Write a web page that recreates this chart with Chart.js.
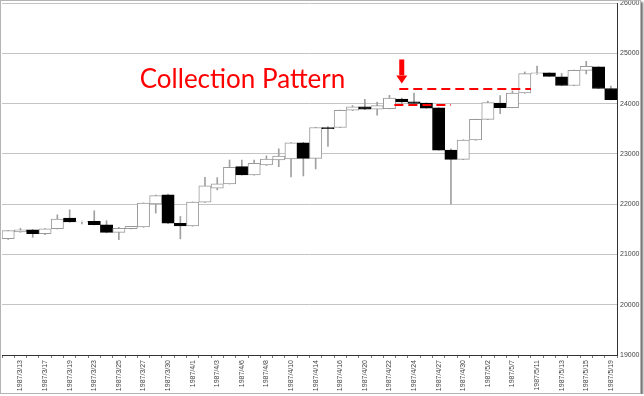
<!DOCTYPE html>
<html lang="ja">
<head>
<meta charset="UTF-8">
<title>1987 Collection Pattern</title>
<script src="https://cdn.jsdelivr.net/npm/chart.js@4.4.1/dist/chart.umd.min.js"></script>
<style>
  body { margin: 0; background: #fff; }
  #wrap {
    position: relative;
    width: 639px; height: 392px;
    border: 1px solid #b4b4b4;
    box-shadow: 2px 2px 2px #6e6e6e;
    background: #fff;
  }
  canvas { display: block; }
</style>
</head>
<body>
<div id="wrap"><canvas id="candleChart" width="639" height="392"></canvas></div>
<script>
// 日付 (every other one is shown on the axis)
const dates = ['1987/3/12','1987/3/13','1987/3/16','1987/3/17','1987/3/18','1987/3/19','1987/3/20','1987/3/23',
  '1987/3/24','1987/3/25','1987/3/26','1987/3/27','1987/3/28','1987/3/30','1987/3/31','1987/4/1','1987/4/2',
  '1987/4/3','1987/4/4','1987/4/6','1987/4/7','1987/4/8','1987/4/9','1987/4/10','1987/4/13','1987/4/14',
  '1987/4/15','1987/4/16','1987/4/17','1987/4/20','1987/4/21','1987/4/22','1987/4/23','1987/4/24','1987/4/25',
  '1987/4/27','1987/4/28','1987/4/30','1987/5/1','1987/5/2','1987/5/6','1987/5/7','1987/5/8','1987/5/11',
  '1987/5/12','1987/5/13','1987/5/14','1987/5/15','1987/5/18','1987/5/19'];

const openP  = [21313,21450,21490,21412,21511,21723,21644,21656,21590,21438,21511,21545,22005,22184,21620,21565,22040,
  22317,22402,22745,22580,22778,22877,22897,23220,22911,23525,23525,23867,23935,23890,23900,24090,24035,24010,
  23915,23075,22890,23275,23685,24012,23920,24210,24595,24610,24530,24360,24660,24730,24300];
const highP  = [21480,21520,21495,21515,21788,21887,21665,21868,21670,21537,21560,22025,22180,22200,21755,22045,22535,
  22527,22877,22877,22877,22960,23100,23225,23230,23530,23540,23870,23960,24085,24030,24165,24110,24210,24015,
  23920,23100,23280,23690,24050,24160,24250,24630,24745,24615,24600,24665,24840,24735,24350];
const lowP   = [21300,21440,21340,21392,21505,21640,21605,21585,21430,21295,21505,21540,21822,21610,21310,21560,22035,
  22283,22400,22575,22575,22770,22745,22540,22560,22700,23150,23520,23860,23880,23770,23895,24000,23990,23905,
  23070,22000,22885,23270,23680,23800,23915,24205,24580,24535,24355,24355,24590,24295,24075];
const closeP = [21472,21490,21412,21511,21703,21644,21658,21590,21438,21517,21557,22020,22170,21624,21565,22040,22363,
  22402,22733,22580,22812,22897,22956,23220,22911,23525,23500,23867,23933,23890,23960,24110,24035,24005,23910,
  23075,22890,23275,23685,24020,23920,24210,24595,24610,24540,24360,24660,24740,24300,24080];

const yMin = 19000, yMax = 26000, yStep = 1000;

// 注記 (index positions / price levels)
const upperLine = { from: 31.8, to: 42.5, price: 24280 };
const lowerLine = { from: 31.4, to: 36.0, price: 23980 };
const arrowAt = { index: 32, top: 24877, neck: 24560, tip: 24400 };
const noteText = { text: 'Collection Pattern', index: 10.7, price: 24300 };

const down = closeP.map((c, i) => c < openP[i]);

const annotate = {
  id: 'annotate',
  afterDatasetsDraw(chart) {
    const ctx = chart.ctx, x = chart.scales.x, y = chart.scales.y;
    ctx.save();
    ctx.strokeStyle = '#ff0000';
    ctx.lineWidth = 2;
    ctx.setLineDash([9, 5]);
    [upperLine, lowerLine].forEach(l => {
      ctx.beginPath();
      ctx.moveTo(x.getPixelForValue(l.from), Math.round(y.getPixelForValue(l.price)));
      ctx.lineTo(x.getPixelForValue(l.to), Math.round(y.getPixelForValue(l.price)));
      ctx.stroke();
    });
    ctx.setLineDash([]);

    // 矢印
    const ax = x.getPixelForValue(arrowAt.index);
    const t = y.getPixelForValue(arrowAt.top), n = y.getPixelForValue(arrowAt.neck), p = y.getPixelForValue(arrowAt.tip);
    ctx.fillStyle = '#ff0000';
    ctx.fillRect(ax - 2.5, t, 5, n - t);
    ctx.beginPath();
    ctx.moveTo(ax - 5.5, n);
    ctx.lineTo(ax + 5.5, n);
    ctx.lineTo(ax, p);
    ctx.closePath();
    ctx.fill();

    ctx.font = '26px Lato';
    ctx.textBaseline = 'alphabetic';
    ctx.textAlign = 'left';
    ctx.fillText(noteText.text, x.getPixelForValue(noteText.index), y.getPixelForValue(noteText.price));
    ctx.restore();
  }
};

new Chart(document.getElementById('candleChart'), {
  type: 'bar',
  data: {
    labels: dates,
    datasets: [{
      label: 'wick',
      data: lowP.map((l, i) => [l, highP[i]]),
      backgroundColor: '#a0a0a0',
      barThickness: 1,
      grouped: false,
      order: 2
    }, {
      label: 'body',
      data: openP.map((o, i) => [o, closeP[i]]),
      backgroundColor: down.map(d => d ? '#000000' : '#ffffff'),
      borderColor: down.map(d => d ? '#000000' : '#9a9a9a'),
      borderWidth: 1,
      borderSkipped: false,
      barPercentage: 1,
      categoryPercentage: 1,
      grouped: false,
      order: 1
    }]
  },
  options: {
    responsive: false,
    animation: false,
    layout: { padding: { left: 1, top: 2 } },
    plugins: { legend: { display: false }, tooltip: { enabled: false } },
    scales: {
      x: {
        offset: true,
        grid: { offset: true, drawOnChartArea: false, tickLength: 3, color: '#777' },
        border: { color: '#333', width: 1 },
        ticks: {
          autoSkip: false, maxRotation: 90, minRotation: 90, padding: 2,
          color: '#444', font: { family: 'Liberation Sans', size: 7 },
          callback: (v, i) => (i % 2 === 1 ? dates[i] : '')
        },
        afterFit: s => { s.height = 38; }
      },
      y: {
        position: 'right',
        min: yMin, max: yMax,
        grid: { color: '#c4c4c4', drawTicks: false },
        border: { color: '#333', width: 1 },
        ticks: {
          stepSize: yStep, padding: 3, color: '#444',
          font: { family: 'Liberation Sans', size: 7, lineHeight: 1 },
          callback: v => String(v)
        },
        afterFit: s => { s.width = 23; s.paddingTop = 0; s.paddingBottom = 0; }
      }
    }
  },
  plugins: [annotate]
});
</script>
</body>
</html>
